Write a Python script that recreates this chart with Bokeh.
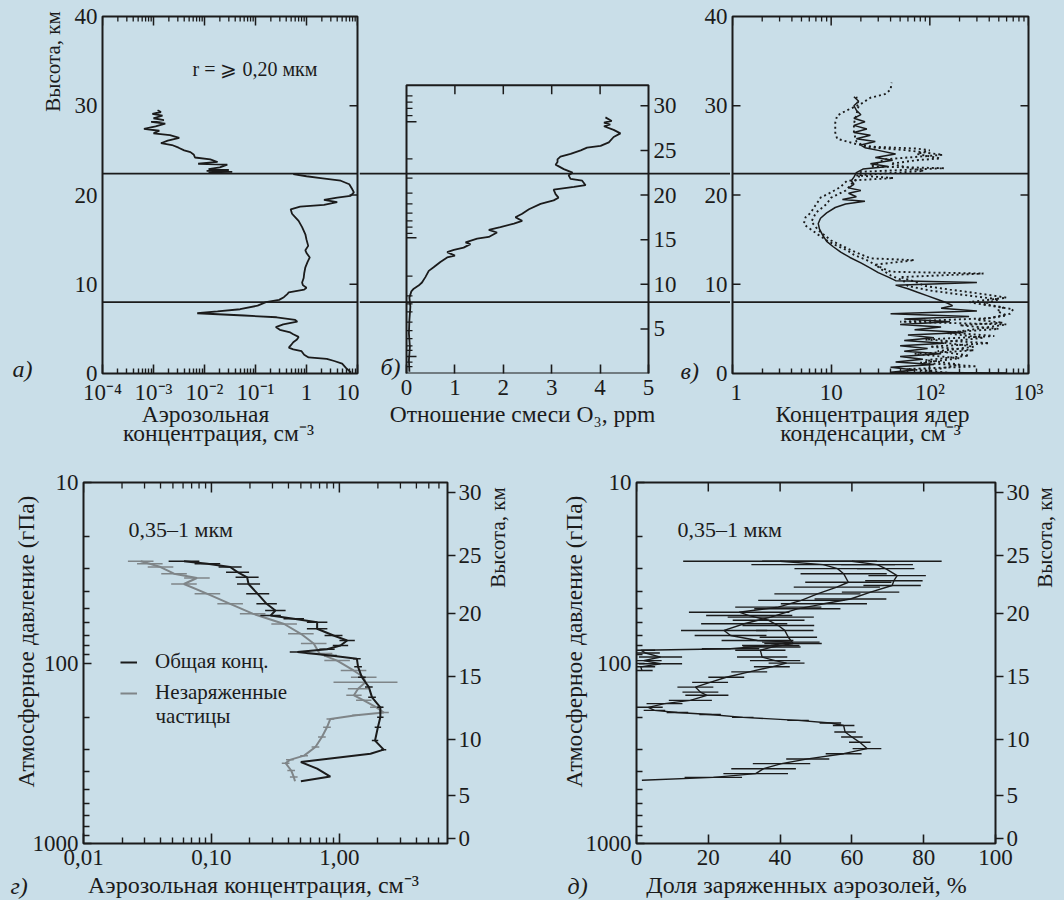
import math
from bokeh.plotting import figure
from bokeh.models import (Range1d, LogAxis, FixedTicker, Span, BoxAnnotation,
                          Legend, LegendItem)
from bokeh.layouts import row, column
from bokeh.core.properties import value
from bokeh.embed import file_html
from bokeh.resources import INLINE

# ---------------------------------------------------------------- data
# panel а: aerosol concentration (cm^-3), r >= 0.20 um, vs altitude (km)
a_low_alt = [0.1, 0.6, 1.1, 1.4, 1.65, 1.8, 2.1, 2.5, 2.7, 2.9, 3.2, 3.5, 3.8, 4.1, 4.4, 4.6,
             4.9, 5.2, 5.5, 5.8, 6.0, 6.3, 6.5, 6.75, 6.95, 7.2, 7.6, 8.0, 8.25, 8.55, 8.9, 9.1,
             9.4, 9.6, 9.9, 10.2, 10.7, 11.2, 11.9, 12.5, 13.0, 13.5, 13.8, 14.3, 15.0, 15.6,
             16.4, 17.1, 17.6, 17.9, 18.4, 18.7, 18.9, 19.2, 19.45, 19.7, 19.9, 20.3, 20.7,
             21.2, 21.6, 21.9, 22.1, 22.35]
a_low_val = [7.5, 6.0, 5.0, 3.5, 2.5, 1.1, 0.9, 0.8, 0.55, 0.45, 0.5, 0.55, 0.65, 0.70, 0.55,
             0.48, 0.30, 0.25, 0.35, 0.66, 0.60, 0.26, 0.06, 0.0072, 0.018, 0.05, 0.11, 0.16,
             0.29, 0.36, 0.42, 0.45, 0.9, 1.0, 0.85, 0.82, 0.88, 0.9, 0.95, 1.05, 1.16, 1.0,
             0.95, 1.08, 1.0, 0.95, 0.82, 0.70, 0.58, 0.52, 0.49, 0.75, 2.2, 4.0, 2.2, 4.0,
             7.3, 8.5, 7.8, 6.9, 4.7, 1.9, 1.0, 0.55]
a_up_alt = [22.45, 22.55, 22.6, 22.7, 22.8, 22.9, 23.1, 23.4, 23.5, 23.7, 24.0, 24.2, 24.5,
            24.8, 25.0, 25.3, 25.6, 25.8, 26.1, 26.4, 26.7, 26.9, 27.2, 27.4, 27.7, 28.0,
            28.2, 28.4, 28.6, 28.9, 29.1, 29.3, 29.5]
a_up_val = [0.030, 0.012, 0.035, 0.011, 0.030, 0.012, 0.020, 0.028, 0.0075, 0.018, 0.013,
            0.0065, 0.0062, 0.0053, 0.0040, 0.0031, 0.0023, 0.0014, 0.0019, 0.0032, 0.0021,
            0.0010, 0.0013, 0.00065, 0.0011, 0.0017, 0.0009, 0.0016, 0.0010, 0.0015, 0.00095,
            0.0014, 0.0012]

# panel б: O3 mixing ratio (ppm) vs altitude (km)
b_alt = [0.2, 1.5, 3.0, 4.5, 6.0, 7.5, 8.5, 9.2, 9.5, 9.85, 10.2, 10.8, 11.5, 11.9, 12.5, 13.0,
         13.2, 13.6, 13.85, 14.1, 14.5, 14.7, 15.1, 15.3, 15.8, 16.1, 16.4, 16.8, 17.1, 17.5,
         17.9, 18.4, 19.0, 19.4, 19.7, 20.1, 20.6, 20.9, 21.1, 21.6, 21.8, 22.2, 22.5, 22.9,
         23.4, 23.7, 24.0, 24.3, 24.6, 25.0, 25.3, 25.5, 25.9, 26.5, 26.9, 27.3, 27.7, 27.9,
         28.1, 28.3, 28.7]
b_o3 = [0.06, 0.05, 0.07, 0.05, 0.06, 0.08, 0.06, 0.1, 0.15, 0.25, 0.32, 0.39, 0.46, 0.56, 0.70,
        0.84, 1.0, 0.84, 0.98, 1.18, 1.32, 1.22, 1.46, 1.70, 1.87, 1.70, 1.94, 2.22, 2.39, 2.25,
        2.39, 2.53, 2.77, 3.04, 3.14, 3.08, 3.04, 3.46, 3.70, 3.63, 3.39, 3.35, 3.43, 3.25,
        3.08, 3.12, 3.12, 3.18, 3.39, 3.60, 3.73, 4.01, 4.18, 4.28, 4.42, 4.28, 4.08, 4.21,
        4.08, 4.24, 4.11]
b_top_km = 32.3

# panel в: condensation nuclei (cm^-3) vs altitude (km)
c_solid_alt = [0.05, 0.15, 0.4, 0.7, 1.0, 1.3, 1.6, 1.9, 2.2, 2.5, 2.8, 3.1, 3.4, 3.7, 4.0, 4.3,
               4.6, 4.9, 5.2, 5.5, 5.8, 6.1, 6.4, 6.7, 7.0, 7.3, 7.6, 7.9, 8.3, 8.7, 9.1, 9.5,
               9.9, 10.2, 10.4, 10.8, 11.3, 11.8, 12.4, 13.0, 13.6, 14.2, 14.8, 15.5, 16.2,
               16.8, 17.4, 18.0, 18.6, 19.0, 19.3, 19.5, 19.8, 20.2, 20.5, 20.8, 21.2, 21.6,
               22.0, 22.5, 22.9, 23.2, 23.5, 23.9, 24.2, 24.6, 25.0, 25.3, 25.6, 26.0, 26.3,
               26.7, 27.0, 27.4, 27.8, 28.2, 28.6, 29.0, 29.5, 30.0, 30.5, 31.0]
c_solid_val = [600, 40, 70, 40, 110, 45, 85, 50, 130, 55, 95, 50, 140, 55, 110, 60, 220, 70,
               130, 50, 160, 55, 250, 40, 300, 130, 170, 150, 120, 95, 75, 60, 45, 300, 45, 38,
               30, 25, 20, 15.5, 12.5, 10.5, 9, 8.2, 7.6, 7.4, 7.8, 9, 11, 14, 22, 13, 18, 15,
               20, 15, 17, 16, 17, 18, 21, 38, 25, 42, 28, 45, 30, 22, 20, 28, 18, 25, 17, 23,
               17, 22, 17, 20, 18, 17, 19, 17]
c_dot1_alt = [0.3, 1.0, 1.5, 2.0, 2.5, 3.0, 3.5, 4.0, 4.5, 5.0, 5.5, 5.8, 6.2, 6.7, 7.2, 7.6,
              8.0, 8.5, 9.0, 9.4, 9.8, 10.3, 10.8, 11.2, 11.4, 12.0, 12.7, 13.3, 13.8, 14.4,
              14.9, 15.5, 16.0, 16.5, 16.8, 17.2, 17.5, 18.0, 18.6, 19.2, 19.7, 20.3, 20.9,
              21.6, 21.9, 22.2, 22.7, 23.1, 23.5, 23.9, 24.1, 24.6, 25.0, 25.2, 25.4, 25.7,
              26.3, 27.0, 28.1, 28.9, 29.5, 30.2, 30.9, 31.3, 31.8, 32.6]
c_dot1_val = [100, 200, 90, 250, 120, 280, 130, 350, 150, 300, 600, 50, 400, 650, 700, 400,
              250, 600, 300, 160, 90, 70, 50, 350, 40, 30, 23, 17, 14.5, 11, 9.1, 7.5, 6.5,
              5.6, 5.3, 5.4, 5.5, 6.2, 6.7, 7.3, 7.8, 10, 12.4, 14.5, 43, 18, 87, 59, 40, 74,
              128, 74, 100, 74, 27, 18, 11.5, 11, 11, 11.5, 14.5, 20, 25, 35, 40, 41]
c_dot2_alt = [0.1, 0.5, 0.8, 1.2, 1.7, 2.2, 2.6, 3.0, 3.4, 3.8, 4.2, 4.6, 5.0, 5.4, 5.7, 6.0,
              6.5, 7.0, 7.4, 7.8, 8.3, 8.8, 9.3, 9.8, 10.4, 11.0, 11.5, 12.2, 12.7, 12.9, 13.8,
              14.9, 16.0, 17.0, 18.0, 19.0, 19.7, 20.5, 21.2, 22.0, 22.6, 23.0, 23.2, 24.0,
              24.5, 25.0, 25.4, 26.0, 27.0, 28.0, 29.0, 30.0, 31.0]
c_dot2_val = [150, 60, 300, 80, 200, 70, 280, 100, 400, 90, 450, 160, 500, 200, 550, 300, 600,
              480, 560, 350, 500, 220, 100, 60, 54, 40, 34, 28, 70, 25, 16, 10, 7.5, 6.3, 7, 9,
              10, 14, 16, 19, 20, 140, 25, 35, 135, 60, 22, 18, 17, 17, 18, 19, 18]

# layer boundaries (km), drawn across the top row
boundary_km = [8.0, 22.4]

# panel г: aerosol 0.35-1 um (cm^-3) vs pressure (hPa); err in decades
g_tot_p = [27.3, 28.2, 29.4, 31.4, 33.5, 36.5, 41.4, 47, 51.2, 54.6, 56.9, 59.4, 64.6, 70.4,
           75, 80, 84, 87, 90.8, 94.8, 105, 120, 136, 155, 176, 200, 227, 269, 302, 318, 354,
           385, 426, 452]
g_tot_val = [0.061, 0.093, 0.14, 0.16, 0.19, 0.195, 0.23, 0.27, 0.316, 0.29, 0.44, 0.67, 0.67,
             0.90, 1.15, 1.02, 0.80, 0.47, 0.85, 1.37, 1.40, 1.50, 1.70, 1.8, 2.09, 2.09, 2.0,
             1.9, 2.22, 1.75, 0.50, 0.67, 0.85, 0.50]
g_tot_err = [0.12, 0.10, 0.09, 0.09, 0.09, 0.09, 0.09, 0.08, 0.08, 0.08, 0.08, 0.08, 0.08,
             0.07, 0.06, 0.06, 0.06, 0.06, 0.05, 0.03, 0.03, 0.03, 0.03, 0.03, 0.025, 0.025,
             0.025, 0.025, 0.02, 0, 0, 0, 0, 0]
g_unc_p = [27.3, 28.2, 29.4, 32, 33.8, 36.5, 41.4, 47, 53.3, 60.8, 68.9, 78, 88.7, 97, 110,
           120, 128, 139, 151, 161, 176, 188, 195, 204, 227, 257, 292, 326, 344, 359, 394,
           428, 452]
g_unc_val = [0.028, 0.033, 0.040, 0.051, 0.077, 0.061, 0.093, 0.14, 0.21, 0.37, 0.50, 0.63,
             0.70, 0.96, 1.29, 1.55, 1.6, 1.4, 1.3, 1.55, 1.95, 2.22, 1.35, 0.85, 0.80, 0.73,
             0.65, 0.53, 0.41, 0.38, 0.42, 0.44, 0.45]
g_unc_err = [0.1, 0.1, 0.1, 0.1, 0.1, 0.1, 0.1, 0.1, 0.1, 0.1, 0.1, 0.1, 0.1, 0.1, 0.1, 0.1,
             0.25, 0.08, 0.06, 0.06, 0.05, 0.04, 0.03, 0.03, 0.03, 0.03, 0.03, 0.03, 0.03,
             0.03, 0.03, 0.03, 0.0]

# panel д: fraction of charged aerosols (%) vs pressure (hPa); err in %
d1_p = [27.3, 28.5, 30, 32, 35.7, 38, 41.4, 45, 49, 52.3, 54.6, 58, 62, 66, 72, 78, 81.6, 85,
        92.7, 97, 100.2, 105, 112, 120, 128, 136, 145, 151, 161, 168, 176, 183, 188, 193, 200,
        208, 215, 222, 241, 257, 275, 298, 318, 340, 361, 385, 410, 430, 446]
d1_val = [40, 52, 56, 57.7, 59, 55.8, 50.4, 45.9, 39.5, 28.6, 31.4, 36.8, 39.5, 41.3, 42.3,
          43.6, 37.7, 34.5, 35, 38.6, 41.8, 37.7, 31.4, 25, 20.5, 16.4, 17.8, 19.6, 15, 7.8,
          3.3, 5, 11.4, 20.5, 29.6, 45, 54, 57.7, 58.1, 60, 62.2, 64.2, 57.7, 47.7, 40.4, 35.4,
          33.2, 21.4, 1.5]
d1_err = [27, 20, 12, 12, 12, 12, 12, 12, 12, 14, 12, 10, 10, 8, 8, 8, 8, 7, 7, 7, 5, 5, 5, 5,
          5, 5, 5, 6, 6, 5, 4, 3, 3, 3, 3, 3, 3, 3, 3, 3, 3, 4, 5, 6, 8, 9, 9, 8, 0]
d2_p = [27.3, 28.5, 30, 32.8, 35, 37.2, 40.5, 44.2, 47, 50.1, 55.7, 60.6, 66, 70.4, 75, 76.6,
        80, 83.3, 85, 88, 92.7, 97, 101, 105, 110]
d2_val = [60, 67, 69.4, 72.6, 71.7, 71.2, 65.2, 59.6, 52.2, 44.8, 37.4, 30, 24.4, 26.2, 33.7,
          43, 37.4, 26.2, 1.2, 2.5, 6.7, 2, 6.7, 1.2, 1.5]
d2_err = [25, 10, 8, 8, 8, 8, 8, 10, 12, 12, 12, 12, 12, 10, 10, 8, 8, 8, 4, 4, 6, 5, 6, 4, 3]

# tick values
height_ticks_km = [0, 5, 10, 15, 20, 25, 30]
height_ticks_hpa = [938, 542, 264, 119, 53.2, 25.4, 11.4]   # pressure at those heights
top_height_ticks = [0, 10, 20, 30, 40]
b_left_minor_km = [31.1, 30.4, 29.7, 28.9, 24.05, 21.9, 20.2, 19.0, 17.96, 17.1, 16.4, 15.7,
                   10.9, 8.7, 7.8, 6.9, 5.75, 4.8, 3.9, 3.1, 2.6, 1.27, 0.78]
b_left_major_km = [28.2, 15.2, 1.9]
pressure_ticks = [10, 100, 1000]

# ---------------------------------------------------------------- style / layout
BG = "#c9dee8"
INK = "#1b1b1b"
GRAY = "#7f8588"
FONT = "Liberation Serif"
FS = "23px"        # tick labels
TS = "23.5px"      # axis titles
TOP_H = 447                   # height of the top row
FR_TOP, FR_BOT = 16, 373      # top-row frame (page px)
FR2_TOP, FR2_BOT = 482, 843   # bottom-row frame (page px)


def log_minor(e0, e1, last=10):
    out = []
    for e in range(e0, e1):
        for m in range(2, last):
            out.append(m * 10.0 ** e)
    return out


class Geo:
    """maps page pixels to data coordinates of one figure (its frame geometry is known)."""

    def __init__(self, fl, fr, ft, fb, xr, yr, xlog=False, ylog=False):
        self.fl, self.fr, self.ft, self.fb = fl, fr, ft, fb
        self.xr, self.yr, self.xlog, self.ylog = xr, yr, xlog, ylog

    @staticmethod
    def _map(t, r, log):
        if log:
            a, b = math.log10(r[0]), math.log10(r[1])
            return 10 ** (a + t * (b - a))
        return r[0] + t * (r[1] - r[0])

    def x(self, px):
        return self._map((px - self.fl) / (self.fr - self.fl), self.xr, self.xlog)

    def y(self, py):
        return self._map((self.fb - py) / (self.fb - self.ft), self.yr, self.ylog)


def set_axis(ax, ticks, minor=(), labels=None, tin=8, tout=0, minin=5, standoff=5):
    ax.ticker = FixedTicker(ticks=list(ticks), minor_ticks=list(minor))
    ax.axis_line_color = None
    ax.major_tick_in = tin
    ax.major_tick_out = tout
    ax.minor_tick_in = minin
    ax.minor_tick_out = 0
    ax.major_tick_line_color = INK
    ax.minor_tick_line_color = INK
    ax.major_tick_line_width = 1.6
    ax.minor_tick_line_width = 1.4
    ax.major_label_text_font = FONT
    ax.major_label_text_color = INK
    ax.major_label_standoff = standoff
    ax.major_label_text_font_size = FS
    if labels is not None:
        ax.major_label_overrides = dict(zip(ticks, labels))


def base_fig(width, height, borders, **kw):
    l, r, t, b = borders
    p = figure(width=width, height=height, min_border_left=l, min_border_right=r,
               min_border_top=t, min_border_bottom=b, output_backend="svg",
               toolbar_location=None, background_fill_color=BG, border_fill_color=BG, **kw)
    p.xgrid.grid_line_color = None
    p.ygrid.grid_line_color = None
    p.outline_line_color = INK
    p.outline_line_width = 2
    return p


def page_text(p, g, text, px, py, size=TS, angle=0.0, align="center", italic=False):
    p.text(x=[g.x(px)], y=[g.y(py)], text=[text], angle=angle, text_align=align,
           text_baseline="middle", text_font=value(FONT), text_font_size=value(size),
           text_color=INK, text_font_style=value("italic" if italic else "normal"),
           level="overlay")


def add_spans(p):
    for v in boundary_km:
        p.add_layout(Span(location=v, dimension="width", line_color=INK, line_width=1.7))


def vticks(p, xs, y_edge, y_end, width=1.5):
    n = len(xs)
    p.segment(x0=xs, y0=[y_edge] * n, x1=xs, y1=[y_end] * n, line_color=INK, line_width=width)


def hticks(p, ys, x_edge, x_end, width=1.5):
    n = len(ys)
    p.segment(x0=[x_edge] * n, y0=ys, x1=[x_end] * n, y1=ys, line_color=INK, line_width=width)


PPK = (FR_BOT - FR_TOP) / 40.0  # px per km, top row

# ---------------------------------------------------------------- panel а
A_FR = (102, 357)
pA = base_fig(359, TOP_H, (A_FR[0], 2, FR_TOP, TOP_H - FR_BOT), x_axis_type="log",
              x_range=Range1d(1e-4, 10), y_range=Range1d(0, 40))
gA = Geo(A_FR[0], A_FR[1], FR_TOP, FR_BOT, (1e-4, 10), (0, 40), xlog=True)
PPD_A = (A_FR[1] - A_FR[0]) / 5.0
a_ticks = [1e-4, 1e-3, 1e-2, 1e-1, 1, 10]
a_labels = ["10⁻⁴", "10⁻³", "10⁻²", "10⁻¹", "1", "10"]
set_axis(pA.xaxis[0], a_ticks, log_minor(-4, 1), a_labels, tin=9, standoff=6)
set_axis(pA.yaxis[0], top_height_ticks, tin=0, standoff=5)
vticks(pA, a_ticks, 40, 40 - 9 / PPK)
vticks(pA, log_minor(-4, 1), 40, 40 - 5 / PPK, 1.3)
hticks(pA, [10, 20, 30], 10, 10 * 10 ** (-8 / PPD_A))
add_spans(pA)
pA.line(a_low_val, a_low_alt, line_color=INK, line_width=1.8)
pA.line(a_up_val, a_up_alt, line_color=INK, line_width=1.8)
page_text(pA, gA, "Высота, км", 52, 61, size="21px", angle=math.pi / 2)
page_text(pA, gA, "Аэрозольная", 205, 413)
page_text(pA, gA, "концентрация, см⁻³", 218, 432)
page_text(pA, gA, "а)", 12, 368, size="24px", align="left", italic=True)
page_text(pA, gA, "r = ⩾ 0,20 мкм", 192, 68, size="20px", align="left")

# ---------------------------------------------------------------- panel б (embedded)
B_CANVAS = (359, 730)
B_PANEL = (406, 648)
PPU = (B_PANEL[1] - B_PANEL[0]) / 5.0
bx_range = (-(B_PANEL[0] - B_CANVAS[0]) / PPU, 5 + (B_CANVAS[1] - B_PANEL[1]) / PPU)
pB = base_fig(B_CANVAS[1] - B_CANVAS[0], TOP_H, (0, 0, FR_TOP, TOP_H - FR_BOT),
              x_range=Range1d(*bx_range), y_range=Range1d(0, 40), y_axis_location=None)
gB = Geo(B_CANVAS[0], B_CANVAS[1], FR_TOP, FR_BOT, bx_range, (0, 40))
pB.outline_line_color = None
set_axis(pB.xaxis[0], [0, 1, 2, 3, 4, 5], tin=9, standoff=6)
add_spans(pB)
pB.add_layout(BoxAnnotation(left=0, right=5, bottom=0, top=b_top_km, fill_color=None,
                            line_color=INK, line_alpha=1.0, line_width=2))
vticks(pB, [1, 2, 3, 4], b_top_km, b_top_km - 9 / PPK)
rt = height_ticks_km[1:]
hticks(pB, rt, 5, 5 - 8 / PPU)
hticks(pB, b_left_minor_km, 0, 6 / PPU, 1.3)
hticks(pB, b_left_major_km, 0, 10 / PPU)
pB.text(x=[5 + 5 / PPU] * len(rt), y=rt, text=[str(h) for h in rt], text_align="left",
        text_baseline="middle", text_font=value(FONT), text_font_size=value(FS), text_color=INK)
pB.line(b_o3, b_alt, line_color=INK, line_width=1.8)
# tick labels of panel в's height axis lie in this canvas
pB.text(x=[gB.x(727)] * len(top_height_ticks), y=top_height_ticks,
        text=[str(h) for h in top_height_ticks], text_align="right", text_baseline="middle",
        text_font=value(FONT), text_font_size=value(FS), text_color=INK, level="overlay")
page_text(pB, gB, "Отношение смеси O₃, ppm", 522, 413)
page_text(pB, gB, "б)", 380, 366, size="24px", align="left", italic=True)
page_text(pB, gB, "в)", 680, 370, size="24px", align="left", italic=True)

# ---------------------------------------------------------------- panel в
C_FR = (732, 1028)
pC = base_fig(1064 - B_CANVAS[1], TOP_H, (C_FR[0] - B_CANVAS[1], 1064 - C_FR[1], FR_TOP,
                                          TOP_H - FR_BOT),
              x_axis_type="log", x_range=Range1d(1, 1000), y_range=Range1d(0, 40),
              y_axis_location=None)
gC = Geo(C_FR[0], C_FR[1], FR_TOP, FR_BOT, (1, 1000), (0, 40), xlog=True)
PPD_C = (C_FR[1] - C_FR[0]) / 3.0
c_ticks = [1, 10, 100, 1000]
set_axis(pC.xaxis[0], c_ticks, log_minor(0, 3), ["1", "10", "10²", "10³"], tin=9, standoff=6)
vticks(pC, c_ticks, 40, 40 - 9 / PPK)
vticks(pC, log_minor(0, 3), 40, 40 - 5 / PPK, 1.3)
hticks(pC, [10, 20, 30], 1, 10 ** (8 / PPD_C))
hticks(pC, [10, 20, 30], 1000, 1000 * 10 ** (-8 / PPD_C))
add_spans(pC)
pC.line(c_dot1_val, c_dot1_alt, line_color=INK, line_width=1.9, line_dash="2 3")
pC.line(c_dot2_val, c_dot2_alt, line_color=INK, line_width=1.9, line_dash="2 3")
pC.line(c_solid_val, c_solid_alt, line_color=INK, line_width=1.5)
page_text(pC, gC, "Концентрация ядер", 872, 413)
page_text(pC, gC, "конденсации, см⁻³", 870, 432)

# ---------------------------------------------------------------- bottom helpers
BOT_H = 900 - TOP_H
p_minor = log_minor(1, 3)
PPD_P = (FR2_BOT - FR2_TOP) / 2.0


def pressure_axes(p):
    set_axis(p.yaxis[0], pressure_ticks, p_minor, [str(v) for v in pressure_ticks],
             tin=8, minin=6, standoff=5)
    ax = LogAxis()
    set_axis(ax, height_ticks_hpa, labels=[str(h) for h in height_ticks_km], tin=0, tout=8,
             standoff=3)
    p.add_layout(ax, "right")


# ---------------------------------------------------------------- panel г
D_FR = (83, 447)
pD = base_fig(530, BOT_H, (D_FR[0], 530 - D_FR[1], FR2_TOP - TOP_H, 900 - FR2_BOT),
              x_axis_type="log", y_axis_type="log",
              x_range=Range1d(0.01, 7), y_range=Range1d(1000, 10))
gD = Geo(D_FR[0], D_FR[1], FR2_TOP, FR2_BOT, (0.01, 7), (1000, 10), xlog=True, ylog=True)
g_ticks = [0.01, 0.1, 1]
g_minor = log_minor(-2, 0) + [2, 3, 4, 5, 6]
set_axis(pD.xaxis[0], g_ticks, g_minor, ["0,01", "0,10", "1,00"], tin=10, minin=6, standoff=6)
vticks(pD, g_ticks, 10, 10 * 10 ** (10 / PPD_P))
vticks(pD, g_minor, 10, 10 * 10 ** (6 / PPD_P), 1.3)
pressure_axes(pD)
pD.segment(x0=[v * 10 ** -e for v, e in zip(g_unc_val, g_unc_err)], y0=g_unc_p,
           x1=[v * 10 ** e for v, e in zip(g_unc_val, g_unc_err)], y1=g_unc_p,
           line_color=GRAY, line_width=1.5)
l_unc = pD.line(g_unc_val, g_unc_p, line_color=GRAY, line_width=2)
pD.segment(x0=[v * 10 ** -e for v, e in zip(g_tot_val, g_tot_err)], y0=g_tot_p,
           x1=[v * 10 ** e for v, e in zip(g_tot_val, g_tot_err)], y1=g_tot_p,
           line_color=INK, line_width=1.5)
l_tot = pD.line(g_tot_val, g_tot_p, line_color=INK, line_width=2)
leg = Legend(items=[LegendItem(label="Общая конц.", renderers=[l_tot]),
                    LegendItem(label="Незаряженные", renderers=[l_unc])],
             location=(37, 138), background_fill_alpha=0, border_line_color=None, padding=0,
             margin=0, spacing=6, glyph_width=17, glyph_height=24, label_height=24,
             label_standoff=18, label_text_font=FONT, label_text_font_size="21px",
             label_text_color=INK)
pD.add_layout(leg)
page_text(pD, gD, "частицы", 155, 715, size="21px", align="left")
page_text(pD, gD, "0,35–1 мкм", 128, 529, size="22px", align="left")
page_text(pD, gD, "Атмосферное давление (гПа)", 25, 641, angle=math.pi / 2)
page_text(pD, gD, "Высота, км", 497, 537, size="21px", angle=math.pi / 2)
page_text(pD, gD, "Аэрозольная концентрация, см⁻³", 253, 884, size="24px")
page_text(pD, gD, "г)", 10, 885, size="24px", align="left", italic=True)

# ---------------------------------------------------------------- panel д
E_FR = (636, 995)
pE = base_fig(534, BOT_H, (E_FR[0] - 530, 1064 - E_FR[1], FR2_TOP - TOP_H, 900 - FR2_BOT),
              y_axis_type="log", x_range=Range1d(0, 100), y_range=Range1d(1000, 10))
gE = Geo(E_FR[0], E_FR[1], FR2_TOP, FR2_BOT, (0, 100), (1000, 10), ylog=True)
e_ticks = [0, 20, 40, 60, 80, 100]
set_axis(pE.xaxis[0], e_ticks, tin=9, standoff=6)
vticks(pE, e_ticks, 10, 10 * 10 ** (9 / PPD_P))
pressure_axes(pE)
for pv, vv, ev in ((d1_p, d1_val, d1_err), (d2_p, d2_val, d2_err)):
    pE.segment(x0=[max(v - e, 0) for v, e in zip(vv, ev)], y0=pv,
               x1=[v + e for v, e in zip(vv, ev)], y1=pv, line_color=INK, line_width=1.4)
    pE.line(vv, pv, line_color=INK, line_width=1.4)
page_text(pE, gE, "0,35–1 мкм", 677, 529, size="22px", align="left")
page_text(pE, gE, "Атмосферное давление (гПа)", 573, 641, angle=math.pi / 2)
page_text(pE, gE, "Высота, км", 1044, 537, size="21px", angle=math.pi / 2)
page_text(pE, gE, "Доля заряженных аэрозолей, %", 806, 884, size="24px")
page_text(pE, gE, "д)", 567, 885, size="24px", align="left", italic=True)

bg = {"background-color": BG}
layout = column(row(pA, pB, pC, styles=bg), row(pD, pE, styles=bg), styles=bg)
open("out.html", "w").write(file_html(layout, INLINE, title="Аэрозоли"))
